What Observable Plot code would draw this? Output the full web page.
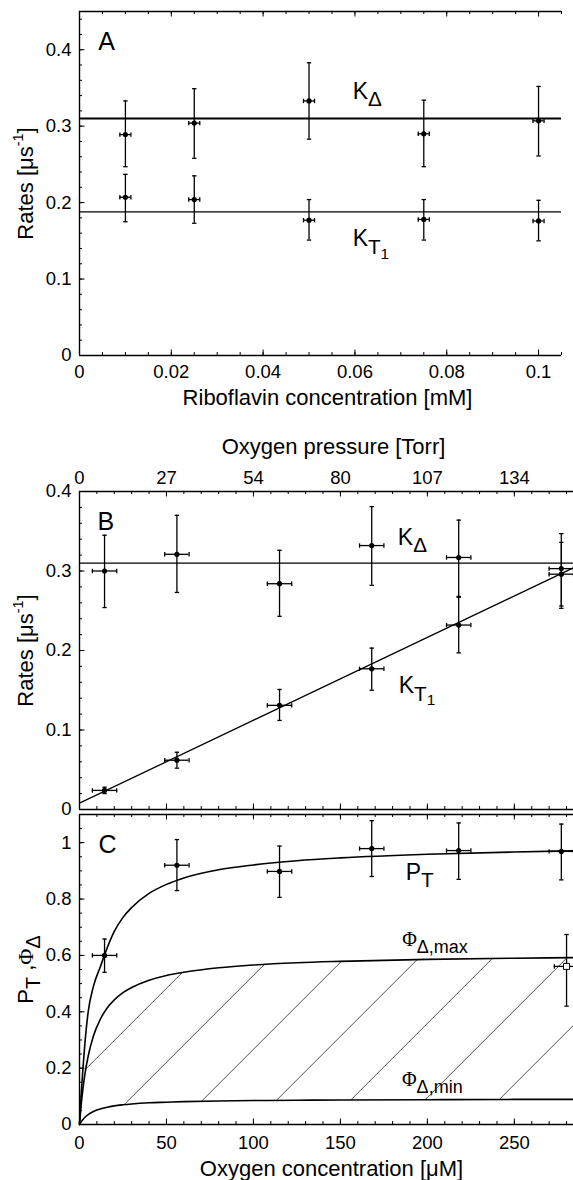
<!DOCTYPE html>
<html><head><meta charset="utf-8">
<script src="https://cdn.jsdelivr.net/npm/d3@7"></script>
<script src="https://cdn.jsdelivr.net/npm/@observablehq/plot@0.6"></script>
<style>
body{margin:0;background:#fff;}
#chart{position:relative;width:573px;height:1180px;overflow:hidden;background:#fff;}
#chart svg{position:absolute;left:0;overflow:visible;}
</style></head><body><div id="chart"></div>
<script>
// ---------------- Panel A : rates vs riboflavin concentration ----------------
const riboConc   = [0.01, 0.025, 0.05, 0.075, 0.1];      // mM
const riboErr    = [0.0012, 0.0012, 0.0012, 0.0012, 0.0012];
const aKDelta    = [0.289, 0.304, 0.333, 0.290, 0.307];
const aKDeltaLo  = [0.247, 0.258, 0.283, 0.247, 0.261];
const aKDeltaHi  = [0.333, 0.349, 0.383, 0.334, 0.352];
const aKT1       = [0.207, 0.204, 0.177, 0.178, 0.176];
const aKT1Lo     = [0.175, 0.173, 0.151, 0.151, 0.150];
const aKT1Hi     = [0.237, 0.235, 0.204, 0.204, 0.203];
const aKDeltaFit = 0.310;
const aKT1Fit    = 0.188;
const aXDomain = [0, 0.105];
const aYDomain = [0, 0.45];
const aXTicks = [0, 0.02, 0.04, 0.06, 0.08, 0.1];
const aXTickLabels = ["0", "0.02", "0.04", "0.06", "0.08", "0.1"];
const aYTicks = [0, 0.1, 0.2, 0.3, 0.4];
const aYTickLabels = ["0", "0.1", "0.2", "0.3", "0.4"];

// ---------------- Panel B : rates vs oxygen ----------------
const o2Conc     = [14.4, 56, 115, 168, 218, 277];         // µM
const o2Err      = [7, 7, 7, 7, 7, 7];
const bKDelta    = [0.300, 0.321, 0.284, 0.332, 0.317, 0.303];
const bKDeltaLo  = [0.254, 0.273, 0.243, 0.282, 0.268, 0.253];
const bKDeltaHi  = [0.345, 0.370, 0.326, 0.381, 0.364, 0.347];
const bKT1       = [0.024, 0.062, 0.131, 0.177, 0.232, 0.296];
const bKT1Lo     = [0.020, 0.052, 0.112, 0.150, 0.197, 0.256];
const bKT1Hi     = [0.028, 0.072, 0.151, 0.203, 0.267, 0.336];
const bKDeltaFit = 0.310;
const bKT1FitX   = [0, 284];
const bKT1FitY   = [0.008, 0.304];
const o2Domain = [0, 284];
const bYDomain = [0, 0.4];
const o2Ticks = [0, 50, 100, 150, 200, 250];
const torrTickLabels = ["0", "27", "54", "80", "107", "134"];
const bYTicks = [0, 0.1, 0.2, 0.3, 0.4];
const bYTickLabels = ["0", "0.1", "0.2", "0.3", "0.4"];

// ---------------- Panel C : P_T and Φ_Δ vs oxygen ----------------
const pT    = [0.600, 0.920, 0.898, 0.979, 0.972, 0.969];
const pTLo  = [0.540, 0.830, 0.806, 0.880, 0.870, 0.868];
const pTHi  = [0.658, 1.011, 0.988, 1.078, 1.070, 1.066];
const phiX = [280], phiXErr = [7], phiY = [0.561], phiLo = [0.420], phiHi = [0.674];
const curveO2     = [0, 1, 2, 3, 5, 8, 12, 16, 20, 25, 30, 40, 50, 60, 80, 100, 125, 150, 200, 250, 284];
const pTCurve     = [0, 0.11, 0.20, 0.28, 0.40, 0.49, 0.56, 0.628, 0.685, 0.735, 0.77, 0.82, 0.852, 0.875, 0.904, 0.921, 0.936, 0.946, 0.959, 0.967, 0.971];
const phiMaxCurve = [0, 0.072, 0.128, 0.174, 0.243, 0.314, 0.374, 0.414, 0.442, 0.468, 0.486, 0.512, 0.529, 0.540, 0.556, 0.566, 0.574, 0.579, 0.586, 0.590, 0.592];
const phiMinCurve = [0, 0.010, 0.018, 0.025, 0.035, 0.046, 0.055, 0.061, 0.066, 0.070, 0.073, 0.077, 0.079, 0.081, 0.0835, 0.085, 0.086, 0.087, 0.088, 0.089, 0.089];
const cYDomain = [0, 1.1];
const cXTickLabels = ["0", "50", "100", "150", "200", "250"];
const cYTicks = [0, 0.2, 0.4, 0.6, 0.8, 1];
const cYTickLabels = ["0", "0.2", "0.4", "0.6", "0.8", "1"];

// ---------------- annotations (data units, baseline-left) ----------------
const annA = [{x: 0.0041, y: 0.399, t: "A"}];
const annAK = [{x: 0.0595, y: 0.336, t: "K_{Δ}"}, {x: 0.0595, y: 0.1426, t: "K_{T_{1}}"}];
const annB = [{x: 10.3, y: 0.351, t: "B"}];
const annBK = [{x: 183, y: 0.3333, t: "K_{Δ}"}, {x: 183.5, y: 0.1463, t: "K_{T_{1}}"}];
const annC = [{x: 10.9, y: 0.963, t: "C"}];
const annCP = [{x: 187.5, y: 0.869, t: "P_{T}"}];
const annCPhi = [{x: 185.5, y: 0.632, t: "Φ_{Δ,max}"}, {x: 185.4, y: 0.135, t: "Φ_{Δ,min}"}];

// ---------------- helpers ----------------
const W = 573;
const FONT = "'Liberation Sans', Arial, Helvetica, sans-serif";
const SERIF = "'Liberation Serif', 'Times New Roman', serif";
const hcap = {draw(ctx, size) { const r = Math.sqrt(size / Math.PI); ctx.moveTo(-r, 0); ctx.lineTo(r, 0); }};
const vcap = {draw(ctx, size) { const r = Math.sqrt(size / Math.PI); ctx.moveTo(0, -r); ctx.lineTo(0, r); }};
const fmt = (ticks, labels) => { const m = new Map(ticks.map((t, i) => [t, labels[i]])); return d => m.get(d); };

function errorBars(xs, xerr, ys, lo, hi, {symbol = "circle", fill = "black", dotR = 2.6} = {}) {
  const rows = xs.map((x, i) => ({x, y: ys[i], lo: lo[i], hi: hi[i], xl: x - xerr[i], xh: x + xerr[i]}));
  const st = {stroke: "black", strokeWidth: 1.3};
  return [
    Plot.ruleX(rows, {x: "x", y1: "lo", y2: "hi", ...st}),
    Plot.dot(rows, {x: "x", y: "lo", symbol: hcap, r: 2.2, fill: "none", ...st}),
    Plot.dot(rows, {x: "x", y: "hi", symbol: hcap, r: 2.2, fill: "none", ...st}),
    Plot.ruleY(rows, {y: "y", x1: "xl", x2: "xh", ...st}),
    Plot.dot(rows, {x: "xl", y: "y", symbol: vcap, r: 2.2, fill: "none", ...st}),
    Plot.dot(rows, {x: "xh", y: "y", symbol: vcap, r: 2.2, fill: "none", ...st}),
    Plot.dot(rows, {x: "x", y: "y", r: dotR, symbol, fill, stroke: "black", strokeWidth: symbol === "circle" ? 0 : 1})
  ];
}

function frameMarks({xDomain, yDomain, FW, FH, xMinor, xMajor, yMinor, yMajor}) {
  const tk = (data, opt) => Plot.tickX(data, {x: d => d, stroke: "black", strokeWidth: 1, ...opt});
  return [
    Plot.ruleX([xDomain[0]], {stroke: "black", strokeWidth: 1.4}),
    Plot.ruleY([yDomain[0]], {stroke: "black", strokeWidth: 1.4}),
    Plot.ruleY([yDomain[1]], {stroke: "black", strokeWidth: 1.4}),
    tk(xMinor, {insetTop: FH - 3}), tk(xMajor, {insetTop: FH - 5.5}),
    tk(xMinor, {insetBottom: FH - 3}), tk(xMajor, {insetBottom: FH - 5.5}),
    Plot.tickY(yMinor, {y: d => d, insetRight: FW - 3, stroke: "black", strokeWidth: 1}),
    Plot.tickY(yMajor, {y: d => d, insetRight: FW - 5.5, stroke: "black", strokeWidth: 1})
  ];
}

const lab = (rows, size) => Plot.text(rows, {x: "x", y: "y", text: "t", fontSize: size, textAnchor: "start", lineAnchor: "bottom", fill: "black"});
const style = {fontFamily: FONT, fontSize: "18.5px", background: "transparent", overflow: "visible", color: "black"};

// ---------------- Panel A ----------------
const A = {mt: 11, mb: 65, ml: 79, mr: 12, h: 420};
const figA = Plot.plot({
  width: W, height: A.h, marginLeft: A.ml, marginRight: A.mr, marginTop: A.mt, marginBottom: A.mb,
  x: {domain: aXDomain}, y: {domain: aYDomain}, style,
  marks: [
    ...frameMarks({xDomain: aXDomain, yDomain: aYDomain, FW: W - A.ml - A.mr, FH: A.h - A.mt - A.mb,
      xMinor: d3.range(0, 0.1051, 0.005), xMajor: aXTicks, yMinor: d3.range(0, 0.451, 0.02), yMajor: aYTicks}),
    Plot.axisX({anchor: "bottom", ticks: aXTicks, tickFormat: fmt(aXTicks, aXTickLabels), tickSize: 0, tickPadding: 9, label: null, fontSize: 18.5}),
    Plot.axisY({anchor: "left", ticks: aYTicks, tickFormat: fmt(aYTicks, aYTickLabels), tickSize: 0, tickPadding: 8, label: null, fontSize: 18.5}),
    Plot.ruleY([aKDeltaFit], {stroke: "black", strokeWidth: 2}),
    Plot.ruleY([aKT1Fit], {stroke: "black", strokeWidth: 1.3}),
    ...errorBars(riboConc, riboErr, aKDelta, aKDeltaLo, aKDeltaHi),
    ...errorBars(riboConc, riboErr, aKT1, aKT1Lo, aKT1Hi),
    Plot.text(["Riboflavin concentration [mM]"], {text: d => d, frameAnchor: "bottom", dy: 49, dx: 7, lineAnchor: "bottom", fontSize: 22}),
    Plot.text(["Rates [μs^{-1}]"], {text: d => d, frameAnchor: "left", dx: -47, rotate: -90, textAnchor: "middle", lineAnchor: "bottom", fontSize: 22}),
    lab(annA, 25),
    lab(annAK, 23)
  ]
});

// ---------------- Panel B ----------------
const B = {mt: 71, mb: 2, ml: 79, mr: 0, h: 391};
const figB = Plot.plot({
  width: W, height: B.h, marginLeft: B.ml, marginRight: B.mr, marginTop: B.mt, marginBottom: B.mb,
  x: {domain: o2Domain}, y: {domain: bYDomain}, style,
  marks: [
    ...frameMarks({xDomain: o2Domain, yDomain: bYDomain, FW: W - B.ml - B.mr, FH: B.h - B.mt - B.mb,
      xMinor: d3.range(0, 285, 10), xMajor: o2Ticks, yMinor: d3.range(0, 0.401, 0.02), yMajor: bYTicks}),
    Plot.axisX({anchor: "top", ticks: o2Ticks, tickFormat: fmt(o2Ticks, torrTickLabels), tickSize: 0, tickPadding: 8, label: null, fontSize: 18.5}),
    Plot.axisY({anchor: "left", ticks: bYTicks, tickFormat: fmt(bYTicks, bYTickLabels), tickSize: 0, tickPadding: 8, label: null, fontSize: 18.5}),
    Plot.ruleY([bKDeltaFit], {stroke: "black", strokeWidth: 1.3}),
    Plot.line(bKT1FitX.map((x, i) => ({x, y: bKT1FitY[i]})), {x: "x", y: "y", stroke: "black", strokeWidth: 1.3}),
    ...errorBars(o2Conc, o2Err, bKDelta, bKDeltaLo, bKDeltaHi),
    ...errorBars(o2Conc, o2Err, bKT1, bKT1Lo, bKT1Hi),
    Plot.text(["Oxygen pressure [Torr]"], {text: d => d, frameAnchor: "top", dy: -38, dx: 7, lineAnchor: "bottom", fontSize: 22}),
    Plot.text(["Rates [μs^{-1}]"], {text: d => d, frameAnchor: "left", dx: -47, rotate: -90, textAnchor: "middle", lineAnchor: "bottom", fontSize: 22}),
    lab(annB, 25),
    lab(annBK, 23)
  ]
});

// ---------------- Panel C ----------------
const C = {mt: 4, mb: 56, ml: 79, mr: 0, h: 370};
const curveRows = curveO2.map((x, i) => ({x, pT: pTCurve[i], max: phiMaxCurve[i], min: phiMinCurve[i]}));
const figC = Plot.plot({
  width: W, height: C.h, marginLeft: C.ml, marginRight: C.mr, marginTop: C.mt, marginBottom: C.mb,
  x: {domain: o2Domain}, y: {domain: cYDomain}, style,
  marks: [
    Plot.areaY(curveRows, {x: "x", y1: "min", y2: "max", fill: "url(#hatchC)", curve: "monotone-x"}),
    ...frameMarks({xDomain: o2Domain, yDomain: cYDomain, FW: W - C.ml - C.mr, FH: C.h - C.mt - C.mb,
      xMinor: d3.range(0, 285, 10), xMajor: o2Ticks, yMinor: d3.range(0, 1.101, 0.05), yMajor: cYTicks}),
    Plot.axisX({anchor: "bottom", ticks: o2Ticks, tickFormat: fmt(o2Ticks, cXTickLabels), tickSize: 0, tickPadding: 11, label: null, fontSize: 18.5}),
    Plot.axisY({anchor: "left", ticks: cYTicks, tickFormat: fmt(cYTicks, cYTickLabels), tickSize: 0, tickPadding: 8, label: null, fontSize: 18.5}),
    Plot.line(curveRows, {x: "x", y: "pT", curve: "monotone-x", stroke: "black", strokeWidth: 1.6}),
    Plot.line(curveRows, {x: "x", y: "max", curve: "monotone-x", stroke: "black", strokeWidth: 1.6}),
    Plot.line(curveRows, {x: "x", y: "min", curve: "monotone-x", stroke: "black", strokeWidth: 1.6}),
    ...errorBars(o2Conc, o2Err, pT, pTLo, pTHi),
    ...errorBars(phiX, phiXErr, phiY, phiLo, phiHi, {symbol: "square", fill: "white", dotR: 3.4}),
    Plot.text(["Oxygen concentration [μM]"], {text: d => d, frameAnchor: "bottom", dy: 51, dx: 5, lineAnchor: "bottom", fontSize: 22}),
    Plot.text(["P_{T} ,Φ_{Δ}"], {text: d => d, frameAnchor: "left", dx: -47, rotate: -90, textAnchor: "middle", lineAnchor: "bottom", fontSize: 22}),
    lab(annC, 25),
    lab(annCP, 23),
    lab(annCPhi, 20)
  ]
});

// hatch pattern for the Φ_Δ band (45° lines, 74 px apart)
(function () {
  const sx = figC.scale("x"), sy = figC.scale("y");
  const phase = ((sx.apply(26) + sy.apply(0.069)) % 74 + 74) % 74;
  const defs = d3.select(figC).insert("defs", ":first-child");
  const pat = defs.append("pattern").attr("id", "hatchC").attr("patternUnits", "userSpaceOnUse")
    .attr("width", 74).attr("height", 74).attr("patternTransform", `translate(${phase},0)`);
  pat.append("path").attr("d", "M-2,76L76,-2M-2,2L2,-2M72,76L76,72")
    .attr("stroke", "#222").attr("stroke-width", 0.8).attr("fill", "none");
})();

// rich text: _{..} subscripts, ^{..} superscripts, serif Φ
function parseRich(s, base) {
  const out = []; let i = 0;
  function walk(depth, shift, size) {
    let buf = "";
    const flush = () => { if (buf) out.push({t: buf, shift, size}); buf = ""; };
    while (i < s.length) {
      const c = s[i];
      if ((c === "_" || c === "^") && s[i + 1] === "{") {
        flush(); i += 2;
        const sub = c === "_";
        const nsize = depth === 0 ? (sub ? size * 0.9 : size * 0.66) : size * 0.74;
        const nshift = shift + (sub ? (depth === 0 ? 0.33 * size : 0.22 * size) : -0.42 * size);
        walk(depth + 1, nshift, nsize);
      } else if (c === "}") { flush(); i++; return; }
      else { buf += c; i++; }
    }
    flush();
  }
  walk(0, 0, base);
  return out;
}
function richify(svg) {
  const ns = "http://www.w3.org/2000/svg";
  d3.select(svg).selectAll("text").each(function () {
    const s = this.textContent;
    if (!/[_^]\{|Φ/.test(s)) return;
    const base = parseFloat(getComputedStyle(this).fontSize) || 20;
    const segs = parseRich(s, base);
    this.textContent = "";
    let prev = 0;
    for (const seg of segs) {
      const parts = seg.t.split(/(Φ)/).filter(p => p);
      parts.forEach((p, j) => {
        const ts = document.createElementNS(ns, "tspan");
        if (j === 0 && seg.shift !== prev) { ts.setAttribute("dy", (seg.shift - prev).toFixed(2)); prev = seg.shift; }
        ts.setAttribute("font-size", seg.size.toFixed(2));
        if (p === "Φ") ts.setAttribute("font-family", SERIF);
        ts.textContent = p;
        this.appendChild(ts);
      });
    }
  });
}

const root = document.getElementById("chart");
[[figA, 0], [figB, 420], [figC, 810]].forEach(([f, top]) => {
  f.style.top = top + "px";
  root.appendChild(f);
  richify(f);
});
</script></body></html>
